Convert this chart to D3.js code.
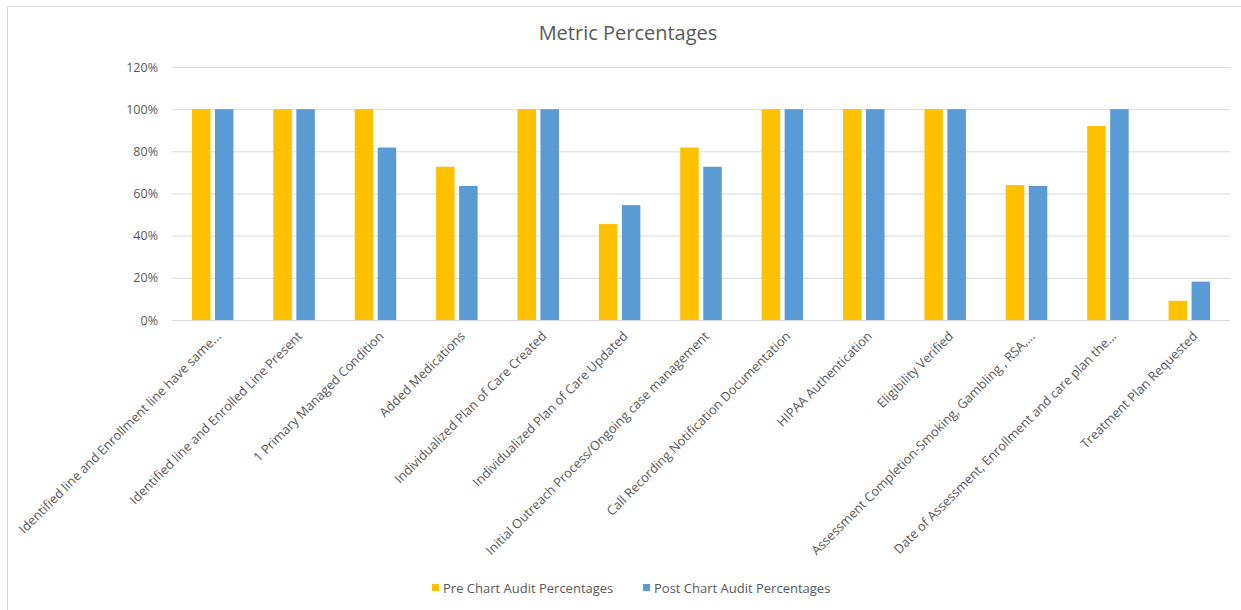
<!DOCTYPE html>
<html>
<head>
<meta charset="utf-8">
<script src="https://cdn.jsdelivr.net/npm/d3@7"></script>
<style>
  html, body { margin: 0; padding: 0; background: #fff; }
  svg { display: block; }
</style>
</head>
<body>
<svg id="chart" width="1241" height="610"></svg>
<script>
// Audit metrics, one entry per category
const categories = [
  "Identified line and Enrollment line have same...",
  "Identified line and Enrolled Line Present",
  "1 Primary Managed Condition",
  "Added Medications",
  "Individualized Plan of Care Created",
  "Individualized Plan of Care Updated",
  "Initial Outreach Process/Ongoing case management",
  "Call Recording Notification Documentation",
  "HIPAA Authentication",
  "Eligibility Verified",
  "Assessment Completion-Smoking, Gambling , RSA,...",
  "Date of Assessment, Enrollment and care plan the...",
  "Treatment Plan Requested"
];
const preValues  = [1.00, 1.00, 1.00, 0.727, 1.00, 0.455, 0.818, 1.00, 1.00, 1.00, 0.64, 0.92, 0.091];
const postValues = [1.00, 1.00, 0.818, 0.636, 1.00, 0.545, 0.727, 1.00, 1.00, 1.00, 0.636, 1.00, 0.182];
const seriesNames = ["Pre Chart Audit Percentages", "Post Chart Audit Percentages"];
const seriesColors = ["#FFC000", "#5B9BD5"];
const yTicks = [0, 0.2, 0.4, 0.6, 0.8, 1.0, 1.2];

const FONT = "'Open Sans', 'Noto Sans', sans-serif";
const TEXT = "#595959";

const svg = d3.select("#chart");
const W = 1241, H = 610;

// chart frame
svg.append("rect")
  .attr("x", 7.5).attr("y", 6.5)
  .attr("width", W).attr("height", H)
  .attr("fill", "#fff").attr("stroke", "#d9d9d9").attr("stroke-width", 1);

const plot = { left: 172, right: 1230, top: 67, bottom: 320 };

const x = d3.scaleBand()
  .domain(categories)
  .range([plot.left, plot.right])
  .paddingInner(0).paddingOuter(0);

const y = d3.scaleLinear().domain([0, 1.2]).range([plot.bottom, plot.top]);

// title
svg.append("text")
  .attr("x", 628).attr("y", 40)
  .attr("text-anchor", "middle")
  .attr("font-family", FONT).attr("font-size", 20)
  .attr("fill", TEXT)
  .text("Metric Percentages");

// horizontal gridlines + y axis labels
const yAxis = d3.axisLeft(y)
  .tickValues(yTicks)
  .tickFormat(d3.format(".0%"))
  .tickSize(-(plot.right - plot.left))
  .tickPadding(14);

const gy = svg.append("g")
  .attr("transform", `translate(${plot.left},0)`)
  .call(yAxis);
gy.select(".domain").remove();
gy.selectAll(".tick line").attr("stroke", "#d9d9d9").attr("stroke-width", 1);
gy.selectAll(".tick text")
  .attr("font-family", FONT).attr("font-size", 12.5)
  .attr("fill", TEXT);

// bars
const barW = 18.5, gap = 4.5;
const series = [preValues, postValues];
series.forEach((vals, si) => {
  svg.append("g")
    .selectAll("rect")
    .data(categories.map((c, i) => ({ c, v: vals[i] })))
    .join("rect")
    .attr("x", d => x(d.c) + x.bandwidth() / 2 + (si === 0 ? -(barW + gap / 2) : gap / 2))
    .attr("y", d => y(d.v))
    .attr("width", barW)
    .attr("height", d => y(0) - y(d.v))
    .attr("fill", seriesColors[si]);
});

// baseline
svg.append("line")
  .attr("x1", plot.left).attr("x2", plot.right)
  .attr("y1", y(0) + 0.5).attr("y2", y(0) + 0.5)
  .attr("stroke", "#d9d9d9");

// category labels, rotated
const xAxis = d3.axisBottom(x).tickSize(0).tickPadding(0);
const gx = svg.append("g")
  .attr("transform", `translate(0,${plot.bottom})`)
  .call(xAxis);
gx.select(".domain").remove();
gx.selectAll(".tick text")
  .attr("font-family", FONT).attr("font-size", 12.8)
  .attr("fill", TEXT)
  .attr("text-anchor", "end")
  .attr("dy", null)
  .attr("transform", "translate(9,17) rotate(-45)");

// legend
const legend = [
  { name: seriesNames[0], color: seriesColors[0], x: 432 },
  { name: seriesNames[1], color: seriesColors[1], x: 643 }
];
const lg = svg.append("g");
legend.forEach(l => {
  lg.append("rect")
    .attr("x", l.x).attr("y", 584)
    .attr("width", 7).attr("height", 7)
    .attr("fill", l.color);
  lg.append("text")
    .attr("x", l.x + 11).attr("y", 592.5)
    .attr("font-family", FONT).attr("font-size", 13)
    .attr("fill", TEXT)
    .text(l.name);
});
</script>
</body>
</html>
